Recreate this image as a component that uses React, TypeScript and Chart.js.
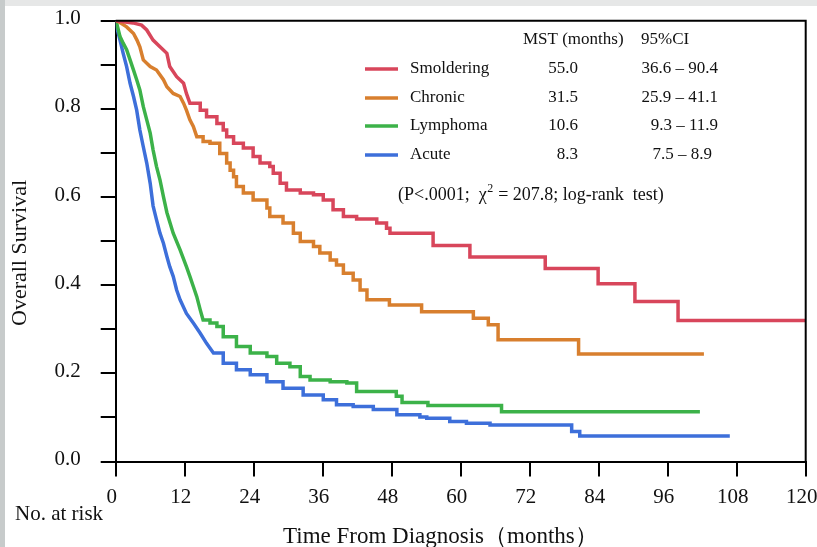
import React, { useEffect, useRef } from 'react';
import { Chart, registerables } from 'chart.js';

Chart.register(...registerables);

// ---------- data ----------
const seriesNames = ['Smoldering', 'Chronic', 'Lymphoma', 'Acute'];
const mstValues = ['55.0', '31.5', '10.6', '8.3'];
const ciValues = ['36.6 – 90.4', '25.9 – 41.1', '9.3 – 11.9', '7.5 – 8.9'];
const seriesColors = ['#d8465b', '#d87f2e', '#3cb249', '#3d6fda'];

const smolderingTimes = [0, 3.0, 4.5, 5.4, 6.5, 7.7, 8.9, 9.4, 10.6, 11.8, 12.3, 12.9, 14.7, 15.8, 17.6, 18.7, 19.3, 20.5, 22.2, 23.9, 25.1, 26.8, 27.4, 28.6, 29.7, 32.1, 34.4, 36.1, 37.8, 39.6, 41.9, 45.4, 47.1, 47.7, 55.2, 61.6, 74.7, 83.9, 90.3, 97.8, 120];
const smolderingSurv = [1.0, 0.995, 0.99, 0.979, 0.956, 0.941, 0.926, 0.896, 0.873, 0.858, 0.835, 0.813, 0.797, 0.782, 0.767, 0.752, 0.737, 0.722, 0.711, 0.692, 0.677, 0.669, 0.654, 0.631, 0.616, 0.609, 0.605, 0.593, 0.571, 0.556, 0.55, 0.541, 0.529, 0.518, 0.49, 0.464, 0.438, 0.403, 0.363, 0.32, 0.32];

const chronicTimes = [0, 0.45, 1.9, 3.1, 3.7, 4.2, 4.8, 6.0, 7.1, 8.3, 8.9, 10.0, 11.2, 11.8, 12.3, 12.9, 13.5, 14.1, 15.2, 16.4, 18.1, 19.3, 19.9, 20.5, 21.0, 22.2, 23.9, 26.3, 26.8, 29.1, 30.9, 32.1, 34.4, 35.5, 37.3, 38.4, 39.6, 41.3, 42.5, 43.7, 47.6, 53.2, 62.2, 64.8, 66.5, 80.5, 102.3];
const chronicSurv = [1.0, 0.998, 0.986, 0.971, 0.956, 0.941, 0.911, 0.896, 0.888, 0.866, 0.85, 0.835, 0.828, 0.813, 0.797, 0.775, 0.76, 0.737, 0.726, 0.722, 0.699, 0.677, 0.661, 0.646, 0.624, 0.609, 0.593, 0.575, 0.556, 0.541, 0.518, 0.499, 0.488, 0.473, 0.457, 0.446, 0.427, 0.412, 0.389, 0.367, 0.355, 0.34, 0.325, 0.31, 0.276, 0.244, 0.244];

const lymphomaTimes = [0, 0.17, 0.75, 1.3, 1.9, 2.5, 3.1, 3.65, 4.2, 4.8, 5.4, 6.0, 6.5, 7.1, 7.7, 8.3, 8.9, 10.0, 11.2, 12.3, 12.9, 13.5, 14.1, 14.7, 15.2, 16.4, 17.6, 18.7, 21.0, 23.4, 26.3, 28.0, 30.3, 32.1, 33.8, 37.3, 40.2, 41.9, 48.8, 49.8, 54.3, 67.1, 101.6];
const lymphomaSurv = [1.0, 0.994, 0.964, 0.949, 0.934, 0.911, 0.888, 0.866, 0.843, 0.805, 0.775, 0.745, 0.707, 0.669, 0.639, 0.601, 0.565, 0.518, 0.48, 0.442, 0.42, 0.397, 0.374, 0.344, 0.321, 0.314, 0.306, 0.283, 0.261, 0.246, 0.238, 0.223, 0.215, 0.193, 0.185, 0.181, 0.178, 0.159, 0.148, 0.134, 0.127, 0.113, 0.113];

const acuteTimes = [0, 0.17, 0.75, 1.3, 1.9, 2.5, 3.1, 3.65, 4.2, 4.8, 5.4, 6.0, 6.5, 7.1, 7.7, 8.3, 8.9, 9.4, 10.0, 10.6, 11.2, 12.3, 13.5, 14.7, 15.8, 17.0, 18.7, 21.0, 23.4, 26.3, 29.1, 32.6, 36.1, 38.4, 41.3, 44.8, 48.9, 52.9, 54.1, 58.1, 61.0, 65.1, 79.3, 80.7, 106.8];
const acuteSurv = [1.0, 0.986, 0.956, 0.926, 0.896, 0.858, 0.828, 0.797, 0.752, 0.714, 0.677, 0.631, 0.58, 0.548, 0.518, 0.495, 0.465, 0.442, 0.42, 0.389, 0.367, 0.336, 0.314, 0.291, 0.268, 0.246, 0.223, 0.208, 0.197, 0.181, 0.166, 0.151, 0.14, 0.129, 0.125, 0.118, 0.106, 0.101, 0.098, 0.091, 0.087, 0.083, 0.068, 0.058, 0.058];

const xTickValues = [0, 12, 24, 36, 48, 60, 72, 84, 96, 108, 120];
const yTickLabels = ['0.0', '0.2', '0.4', '0.6', '0.8', '1.0'];

const xTitle = 'Time From Diagnosis（months）';
const yTitle = 'Overall Survival';
const atRiskLabel = 'No. at risk';
const headerMST = 'MST (months)';
const headerCI = '95%CI';

// rendering settings (not data): where the densely-packed events end for each curve,
// after which the curve is drawn as explicit Kaplan–Meier steps
const denseUntil = [13.5, 14.5, 15.5, 18];

const W = 817;
const H = 547;
const SERIF = '"Liberation Serif", "Times New Roman", Times, serif';

const seriesTimes = [smolderingTimes, chronicTimes, lymphomaTimes, acuteTimes];
const seriesSurv = [smolderingSurv, chronicSurv, lymphomaSurv, acuteSurv];

function kmPoints(times: number[], surv: number[], dense: number) {
  const pts: { x: number; y: number }[] = [];
  for (let j = 0; j < times.length; j++) {
    if (j > 0 && times[j] > dense) {
      pts.push({ x: times[j], y: surv[j - 1] });
    }
    pts.push({ x: times[j], y: surv[j] });
  }
  return pts;
}

const decorPlugin = {
  id: 'decor',
  beforeDraw(chart: any) {
    const ctx = chart.ctx;
    ctx.save();
    ctx.fillStyle = '#ffffff';
    ctx.fillRect(0, 0, W, H);
    ctx.fillStyle = '#e6e7e7';
    ctx.fillRect(0, 0, W, 6);
    ctx.fillStyle = '#c7cbcb';
    ctx.fillRect(0, 0, 5, H);
    ctx.restore();
  },
  afterDraw(chart: any) {
    const ctx = chart.ctx;
    const a = chart.chartArea;
    ctx.save();
    // frame top and right
    ctx.strokeStyle = '#000';
    ctx.lineWidth = 2;
    ctx.beginPath();
    ctx.moveTo(a.left, a.top);
    ctx.lineTo(a.right, a.top);
    ctx.lineTo(a.right, a.bottom);
    ctx.stroke();

    ctx.fillStyle = '#111';
    ctx.textBaseline = 'middle';

    // legend table
    ctx.font = `17px ${SERIF}`;
    ctx.textAlign = 'left';
    ctx.fillText(headerMST, 523, 40);
    ctx.fillText(headerCI, 641, 40);
    const rowY = [69, 98, 126, 155];
    const ciRight = [718, 718, 718, 712];
    for (let i = 0; i < seriesNames.length; i++) {
      const y = rowY[i];
      ctx.strokeStyle = seriesColors[i];
      ctx.lineWidth = 3.5;
      ctx.beginPath();
      ctx.moveTo(365, y);
      ctx.lineTo(398, y);
      ctx.stroke();
      ctx.textAlign = 'left';
      ctx.fillText(seriesNames[i], 410, y);
      ctx.textAlign = 'right';
      ctx.fillText(mstValues[i], 578, y);
      ctx.fillText(ciValues[i], ciRight[i], y);
    }

    // p-value line
    ctx.textAlign = 'left';
    let px = 398;
    const py = 195;
    ctx.font = `18px ${SERIF}`;
    const part1 = '(P<.0001;  χ';
    ctx.fillText(part1, px, py);
    px += ctx.measureText(part1).width;
    ctx.font = `12px ${SERIF}`;
    ctx.fillText('2', px + 0.5, py - 6);
    px += ctx.measureText('2').width + 1;
    ctx.font = `18px ${SERIF}`;
    ctx.fillText(' = 207.8; log-rank  test)', px, py);

    // axis titles
    ctx.font = `23px ${SERIF}`;
    ctx.textAlign = 'left';
    ctx.fillText(xTitle, 283, 537);
    ctx.font = `22px ${SERIF}`;
    ctx.save();
    ctx.translate(20, 253);
    ctx.rotate(-Math.PI / 2);
    ctx.textAlign = 'center';
    ctx.fillText(yTitle, 0, 0);
    ctx.restore();

    ctx.font = `21px ${SERIF}`;
    ctx.textAlign = 'left';
    ctx.fillText(atRiskLabel, 15, 514);
    ctx.restore();
  },
};

export default function App() {
  const canvasRef = useRef<HTMLCanvasElement | null>(null);

  useEffect(() => {
    const canvas = canvasRef.current;
    if (!canvas) return;
    Chart.defaults.font.family = SERIF;

    const datasets = seriesNames.map((name, i) => ({
      label: name,
      data: kmPoints(seriesTimes[i], seriesSurv[i], denseUntil[i]),
      borderColor: seriesColors[i],
      backgroundColor: seriesColors[i],
      borderWidth: 3.5,
      pointRadius: 0,
      stepped: false,
      tension: 0,
      borderJoinStyle: 'miter' as const,
      fill: false,
      order: i,
    }));

    const chart = new Chart(canvas, {
      type: 'line',
      data: { datasets },
      plugins: [decorPlugin],
      options: {
        animation: false,
        responsive: false,
        devicePixelRatio: 1,
        layout: { padding: { left: 0, top: 20.7, right: 11.3, bottom: 0 } },
        plugins: {
          legend: { display: false },
          tooltip: { enabled: false },
          title: { display: false },
        },
        scales: {
          x: {
            type: 'linear',
            min: 0,
            max: 120,
            afterBuildTicks: (s: any) => {
              s.ticks = xTickValues.map((v) => ({ value: v }));
            },
            afterFit: (s: any) => {
              s.height = 85.5;
              s.paddingLeft = 0;
              s.paddingRight = 0;
            },
            ticks: {
              autoSkip: false,
              maxRotation: 0,
              padding: 8,
              labelOffset: -4,
              color: '#111',
              font: { size: 21, family: SERIF },
              callback: (v: any) => String(v),
            },
            grid: {
              drawOnChartArea: false,
              drawTicks: true,
              tickLength: 15,
              color: '#000',
              lineWidth: 2,
            },
            border: { display: true, color: '#000', width: 2 },
          },
          y: {
            type: 'linear',
            min: 0,
            max: 1,
            afterFit: (s: any) => {
              s.width = 115.7;
              s.paddingTop = 0;
              s.paddingBottom = 0;
            },
            ticks: {
              stepSize: 0.1,
              autoSkip: false,
              padding: 20,
              labelOffset: -2,
              color: '#111',
              font: { size: 21, family: SERIF },
              callback: (v: any) => {
                const r = Math.round(Number(v) * 10);
                return r % 2 === 0 ? yTickLabels[r / 2] : '';
              },
            },
            grid: {
              drawOnChartArea: false,
              drawTicks: true,
              tickLength: 15,
              color: '#000',
              lineWidth: 2,
            },
            border: { display: true, color: '#000', width: 2 },
          },
        },
      },
    });
    return () => chart.destroy();
  }, []);

  return (
    <div style={{ position: 'absolute', left: 0, top: 0, width: W, height: H, background: '#fff' }}>
      <canvas ref={canvasRef} width={W} height={H} style={{ display: 'block', width: W, height: H }} />
    </div>
  );
}
